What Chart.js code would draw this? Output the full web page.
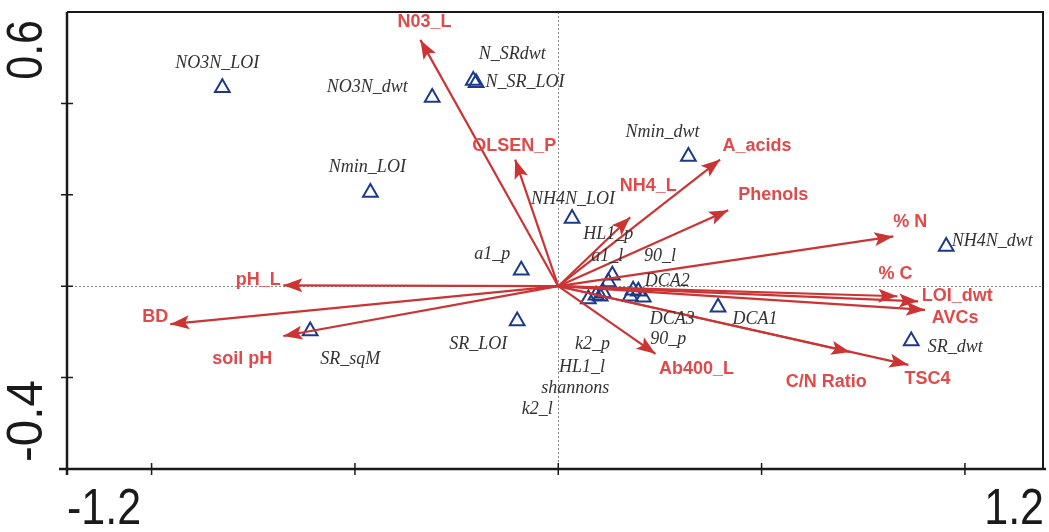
<!DOCTYPE html>
<html>
<head>
<meta charset="utf-8">
<script src="https://cdn.jsdelivr.net/npm/chart.js@4/dist/chart.umd.min.js"></script>
<style>
  html, body { margin: 0; padding: 0; background: #fff; }
  #wrap { width: 1049px; height: 532px; position: relative; }
</style>
</head>
<body>
<div id="wrap"><canvas id="c" width="1049" height="532"></canvas></div>
<script>
// Environmental variables (arrow tips, axis 1 / axis 2 scores)
const envNames = ['N03_L', 'OLSEN_P', 'A_acids', 'NH4_L', 'Phenols', '% N', '% C', 'LOI_dwt', 'AVCs', 'TSC4', 'C/N Ratio', 'Ab400_L', 'pH_L', 'BD', 'soil pH'];
const envX = [-0.339, -0.106, 0.398, 0.177, 0.418, 0.824, 0.834, 0.885, 0.902, 0.861, 0.718, 0.239, -0.676, -0.954, -0.676];
const envY = [0.539, 0.277, 0.277, 0.151, 0.166, 0.109, -0.022, -0.033, -0.052, -0.172, -0.144, -0.148, 0.002, -0.083, -0.109];

// Response variables (triangles)
const spNames = ['NO3N_LOI', 'NO3N_dwt', 'N_SRdwt', 'N_SR_LOI', 'Nmin_LOI', 'NH4N_LOI', 'Nmin_dwt', 'a1_p', 'HL1_p', 'a1_l', '90_l', 'DCA2', 'DCA3', '90_p', 'k2_p', 'HL1_l', 'shannons', 'k2_l', 'DCA1', 'SR_LOI', 'SR_sqM', 'SR_dwt', 'NH4N_dwt'];
const spX = [-0.826, -0.310, -0.209, -0.202, -0.462, 0.034, 0.320, -0.091, 0.133, 0.123, 0.184, 0.197, 0.209, 0.177, 0.111, 0.093, 0.074, 0.103, 0.393, -0.101, -0.610, 0.868, 0.954];
const spY = [0.434, 0.413, 0.450, 0.445, 0.205, 0.148, 0.284, 0.035, 0.024, 0.009, -0.009, -0.011, -0.024, -0.022, -0.015, -0.020, -0.028, -0.022, -0.046, -0.076, -0.098, -0.120, 0.087];

// Axis range, ticks and end labels
const xRange = [-1.208, 1.192];
const yRange = [-0.4, 0.6];
const xTicks = [-1, -0.5, 0, 0.5, 1];
const yTicks = [-0.2, 0, 0.2, 0.4];
const xTickLabels = ['-1.2', '1.2'];
const yTickLabels = ['-0.4', '0.6'];

// Label placement relative to each mark, in pixels
const envLabelOffset = [[4,-18],[-1,-14],[37,-14],[18,-31],[45,-15],[17,-14],[-2,-22],[39,-5],[30,8],[19,14],[-24,30],[41,15],[-25,-5],[-15,-7],[-41,23]];
const spLabelOffset = [[-5,-25],[-65,-10],[39,-26],[49,-1],[-3,-25],[1,-19],[-26,-24],[-29,-16],[-4,-41],[-1,-26],[27,-34],[29,-10],[29,22],[38,43],[-11,51],[-14,72],[-13,89],[-63,113],[37,12],[-39,23],[40,28],[44,6],[46,-5]];

const ARROW = '#cc3434';
const ARROW_TEXT = '#e04a4a';
const TRI = '#1d3a88';
const SP_TEXT = '#333333';

const datasets = envNames.map((n, i) => ({
  label: n,
  data: [{ x: 0, y: 0 }, { x: envX[i], y: envY[i] }],
  showLine: true,
  borderColor: ARROW,
  borderWidth: 2.2,
  pointRadius: 0,
  pointHoverRadius: 0,
  fill: false
}));
datasets.push({
  label: 'responses',
  data: spNames.map((n, i) => ({ x: spX[i], y: spY[i] })),
  showLine: false,
  pointStyle: 'triangle',
  pointRadius: 8.5,
  pointBorderWidth: 2,
  pointBorderColor: TRI,
  pointBackgroundColor: 'rgba(0,0,0,0)'
});

function condensedText(ctx, text, x, y, align, cond, rot) {
  ctx.save();
  ctx.translate(x, y);
  if (rot) ctx.rotate(rot);
  ctx.scale(cond, 1);
  ctx.textAlign = align;
  ctx.fillText(text, 0, 0);
  ctx.restore();
}

const biplotDecor = {
  id: 'biplotDecor',
  beforeDatasetsDraw(chart) {
    const { ctx, chartArea: a, scales: { x, y } } = chart;
    ctx.save();
    ctx.strokeStyle = '#8a8a8a';
    ctx.lineWidth = 1;
    ctx.setLineDash([2, 2]);
    const x0 = Math.round(x.getPixelForValue(0)) + 0.5;
    const y0 = Math.round(y.getPixelForValue(0)) + 0.5;
    ctx.beginPath();
    ctx.moveTo(x0, a.top); ctx.lineTo(x0, a.bottom);
    ctx.moveTo(a.left, y0); ctx.lineTo(a.right, y0);
    ctx.stroke();
    ctx.restore();
  },
  afterDatasetsDraw(chart) {
    const { ctx, chartArea: a, scales: { x, y } } = chart;
    const ox = x.getPixelForValue(0), oy = y.getPixelForValue(0);

    // arrowheads
    ctx.save();
    ctx.fillStyle = ARROW;
    envNames.forEach((n, i) => {
      const tx = x.getPixelForValue(envX[i]), ty = y.getPixelForValue(envY[i]);
      const dx = tx - ox, dy = ty - oy, len = Math.hypot(dx, dy);
      const ux = dx / len, uy = dy / len;
      const L = 19, W = 7;
      const bx = tx - ux * L, by = ty - uy * L;
      ctx.beginPath();
      ctx.moveTo(tx, ty);
      ctx.lineTo(bx - uy * W, by + ux * W);
      ctx.lineTo(tx - ux * (L - 4), ty - uy * (L - 4));
      ctx.lineTo(bx + uy * W, by - ux * W);
      ctx.closePath();
      ctx.fill();
    });
    ctx.restore();

    // arrow labels
    ctx.save();
    ctx.fillStyle = ARROW_TEXT;
    ctx.font = 'bold 18px "Liberation Sans", Arial, sans-serif';
    ctx.textAlign = 'center';
    ctx.textBaseline = 'middle';
    envNames.forEach((n, i) => {
      const tx = x.getPixelForValue(envX[i]), ty = y.getPixelForValue(envY[i]);
      ctx.fillText(n, tx + envLabelOffset[i][0], ty + envLabelOffset[i][1]);
    });
    ctx.restore();

    // response labels
    ctx.save();
    ctx.fillStyle = SP_TEXT;
    ctx.font = 'italic 18px "Liberation Serif", "Times New Roman", serif';
    ctx.textAlign = 'center';
    ctx.textBaseline = 'middle';
    spNames.forEach((n, i) => {
      const px = x.getPixelForValue(spX[i]), py = y.getPixelForValue(spY[i]);
      ctx.fillText(n, px + spLabelOffset[i][0], py + spLabelOffset[i][1]);
    });
    ctx.restore();

    // frame
    ctx.save();
    ctx.strokeStyle = '#1a1a1a';
    ctx.lineWidth = 2;
    ctx.beginPath();
    ctx.moveTo(a.left, a.top); ctx.lineTo(a.right, a.top); ctx.lineTo(a.right, a.bottom);
    ctx.stroke();
    ctx.lineWidth = 2.5;
    ctx.beginPath();
    ctx.moveTo(a.left - 8, a.bottom); ctx.lineTo(a.right + 3, a.bottom);
    ctx.moveTo(a.left, a.top); ctx.lineTo(a.left, a.bottom + 6);
    ctx.stroke();
    // tick marks crossing the axes
    ctx.lineWidth = 1.5;
    ctx.beginPath();
    xTicks.forEach(v => {
      const px = x.getPixelForValue(v);
      ctx.moveTo(px, a.bottom - 6); ctx.lineTo(px, a.bottom + 6);
    });
    yTicks.forEach(v => {
      const py = y.getPixelForValue(v);
      ctx.moveTo(a.left - 6, py); ctx.lineTo(a.left + 6, py);
    });
    ctx.stroke();
    ctx.restore();

    // axis end labels
    ctx.save();
    ctx.fillStyle = '#1a1a1a';
    ctx.font = '50px "Liberation Sans", Arial, sans-serif';
    ctx.textBaseline = 'alphabetic';
    condensedText(ctx, xTickLabels[0], a.left, 524, 'left', 0.86, 0);
    condensedText(ctx, xTickLabels[1], a.right + 1, 524, 'right', 0.86, 0);
    ctx.textBaseline = 'middle';
    condensedText(ctx, yTickLabels[1], 28, a.top + 8, 'right', 0.86, -Math.PI / 2);
    condensedText(ctx, yTickLabels[0], 28, a.bottom - 7, 'left', 0.95, -Math.PI / 2);
    ctx.restore();
  }
};

new Chart(document.getElementById('c'), {
  type: 'scatter',
  data: { datasets },
  options: {
    responsive: false,
    animation: false,
    devicePixelRatio: 1,
    layout: { autoPadding: false, padding: { left: 67, right: 6, top: 12, bottom: 63 } },
    plugins: { legend: { display: false }, tooltip: { enabled: false } },
    scales: {
      x: { type: 'linear', min: xRange[0], max: xRange[1], display: false },
      y: { type: 'linear', min: yRange[0], max: yRange[1], display: false }
    }
  },
  plugins: [biplotDecor]
});
</script>
</body>
</html>
